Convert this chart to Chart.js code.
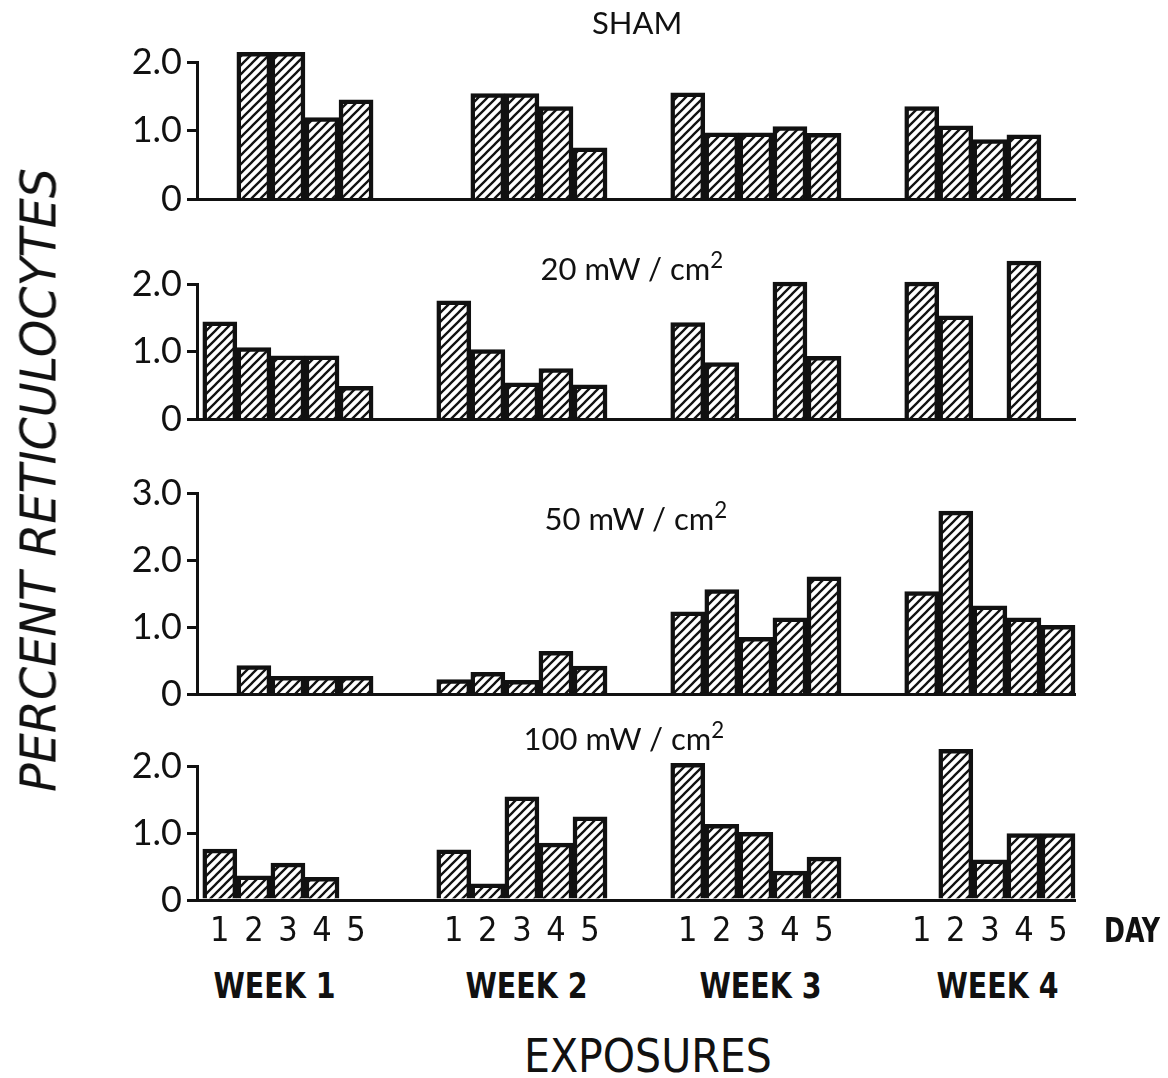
<!DOCTYPE html>
<html><head><meta charset="utf-8">
<script src="https://cdn.jsdelivr.net/npm/chart.js@4.4.0/dist/chart.umd.min.js"></script>
<style>
html,body{margin:0;padding:0;background:#fff;}
#wrap{position:relative;width:1168px;height:1078px;overflow:hidden;background:#fff;}
#wrap canvas{position:absolute;left:0;}
.t{position:absolute;white-space:nowrap;color:#111;line-height:1;transform-origin:50% 50%;}
.sup{font-size:0.72em;vertical-align:0.55em;line-height:0;}
</style></head>
<body><div id="wrap"></div>
<script>
// ---------------- data ----------------
const dayLabels = ["1","2","3","4","5"];
const weekLabels = ["WEEK 1","WEEK 2","WEEK 3","WEEK 4"];
const panelTitles = ["SHAM","20 mW / cm²","50 mW / cm²","100 mW / cm²"];
const yTickLabels = ["0","1.0","2.0","3.0"];
const yAxisTitle = "PERCENT RETICULOCYTES";
const xAxisTitle = "EXPOSURES";
const dayWord = "DAY";
// 20 values each: week 1 days 1-5, week 2 days 1-5, ... ; null = no bar
const sham  = [null,2.14,2.14,1.19,1.45,  null,1.54,1.54,1.35,0.75,  1.55,0.97,0.97,1.06,0.96,  1.35,1.07,0.87,0.94,null];
const mw20  = [1.44,1.06,0.94,0.94,0.49,  1.75,1.03,0.54,0.75,0.51,  1.43,0.84,null,2.03,0.93,  2.03,1.53,null,2.34,null];
const mw50  = [null,0.43,0.27,0.27,0.27,  0.22,0.33,0.21,0.64,0.42,  1.23,1.56,0.85,1.14,1.75,  1.53,2.73,1.32,1.14,1.03];
const mw100 = [0.76,0.36,0.55,0.34,null,  0.75,0.24,1.54,0.85,1.24,  2.04,1.13,1.01,0.43,0.64,  null,2.25,0.60,0.99,0.99];
const yMaxes = [2,2,3,2];
const panels = [sham, mw20, mw50, mw100];

// ---------------- layout / style ----------------
const W = 1168;
const INK = '#111';
const AREA_L = 197, AREA_R = 1075;
const areaTops = [62, 284, 493, 766];
const areaBottoms = [200, 420, 695, 900];
const PADT = 44;
const WEEK_STEP = 6.87;
const X_MIN = -0.67, X_MAX = 3*WEEK_STEP + 4 + 0.5;
const NUMFONT = "Lato, 'Noto Sans', sans-serif";
const CONDFONT = "'DejaVu Sans Condensed', 'Liberation Sans Narrow', sans-serif";

const wrap = document.getElementById('wrap');

function hatch(){
  const n = 9;
  const c = document.createElement('canvas'); c.width = n; c.height = n;
  const g = c.getContext('2d');
  g.fillStyle = '#fff'; g.fillRect(0,0,n,n);
  g.strokeStyle = INK; g.lineWidth = 2.3;
  g.beginPath();
  g.moveTo(-2,2); g.lineTo(2,-2);
  g.moveTo(-1,n+1); g.lineTo(n+1,-1);
  g.moveTo(n-2,n+2); g.lineTo(n+2,n-2);
  g.stroke();
  return g.createPattern(c,'repeat');
}
const pattern = hatch();

function xPos(k){ return Math.floor(k/5)*WEEK_STEP + (k%5); }
const tickPositions = Array.from({length:20},(_,k)=>xPos(k));

function makePanel(i){
  const values = panels[i];
  const top = areaTops[i], bottom = areaBottoms[i];
  const isLast = i === 3;
  const xH = isLast ? 54 : 26;
  const canvas = document.createElement('canvas');
  canvas.width = W;
  canvas.height = PADT + (bottom - top) + xH;
  canvas.style.top = (top - PADT) + 'px';
  wrap.appendChild(canvas);
  const data = values.map((v,k)=>({x: xPos(k), y: v}));
  new Chart(canvas, {
    type: 'bar',
    data: { datasets: [{
      data, backgroundColor: pattern, borderColor: INK, borderWidth: 4.5,
      barPercentage: 1, categoryPercentage: 1, clip: false
    }]},
    options: {
      responsive: false, animation: false, devicePixelRatio: 1,
      layout: { padding: { left: 0, right: W - AREA_R, top: PADT, bottom: 0 } },
      plugins: { legend: {display:false}, tooltip: {enabled:false}, title: {display:false} },
      scales: {
        x: {
          type: 'linear', min: X_MIN, max: X_MAX, offset: false,
          afterBuildTicks: s => { s.ticks = tickPositions.map(v => ({value: v})); },
          afterFit: s => { s.height = xH; },
          grid: { display: false, drawTicks: false },
          border: { display: true, color: INK, width: 3 },
          ticks: {
            display: isLast, autoSkip: false, maxRotation: 0, minRotation: 0, padding: 12,
            color: INK, font: { family: CONDFONT, size: 34 },
            callback: (v, idx) => dayLabels[idx % 5]
          }
        },
        y: {
          min: 0, max: yMaxes[i],
          afterBuildTicks: s => { s.ticks = Array.from({length: yMaxes[i]+1}, (_,k) => ({value: k})); },
          afterFit: s => { s.width = AREA_L; },
          grid: { drawOnChartArea: false, drawTicks: true, tickLength: 10, color: INK, lineWidth: 3 },
          border: { display: true, color: INK, width: 3 },
          ticks: { padding: 5, color: INK, font: { family: NUMFONT, size: 36 },
                   callback: v => yTickLabels[v] }
        }
      }
    }
  });
}

function addText(txt, cx, cy, css, target, rot){
  const d = document.createElement('div');
  d.className = 't';
  if (txt.indexOf('²') >= 0) {
    const parts = txt.split('²');
    d.appendChild(document.createTextNode(parts[0]));
    const s = document.createElement('span'); s.className = 'sup'; s.textContent = '2';
    d.appendChild(s);
    d.appendChild(document.createTextNode(parts[1] || ''));
  } else {
    d.textContent = txt;
  }
  Object.assign(d.style, css);
  wrap.appendChild(d);
  const w = d.offsetWidth, h = d.offsetHeight;
  d.style.left = (cx - w/2) + 'px';
  d.style.top = (cy - h/2) + 'px';
  const k = target ? target / w : 1;
  d.style.transform = (rot ? 'rotate(' + rot + 'deg) ' : '') + 'scaleX(' + k + ')';
  return d;
}

for (let i = 0; i < 4; i++) makePanel(i);

const titlePos = [[637,22],[632,268],[636,518],[624,738]];
panelTitles.forEach((t,i)=> addText(t, titlePos[i][0], titlePos[i][1],
  {fontFamily: NUMFONT, fontSize: '31px'}));

const weekCenters = [274, 526, 760, 997];
weekLabels.forEach((t,i)=> addText(t, weekCenters[i], 986,
  {fontFamily: CONDFONT, fontSize: '36px', fontWeight: 'bold'}, 122));

addText(dayWord, 1132, 930, {fontFamily: CONDFONT, fontSize: '33px', fontWeight: 'bold'}, 56);
addText(xAxisTitle, 648, 1056, {fontFamily: CONDFONT, fontSize: '46px'}, 248);
addText(yAxisTitle, 38, 480, {fontFamily: CONDFONT, fontSize: '50px', fontStyle: 'italic'}, 624, -90);
</script>
</body></html>
